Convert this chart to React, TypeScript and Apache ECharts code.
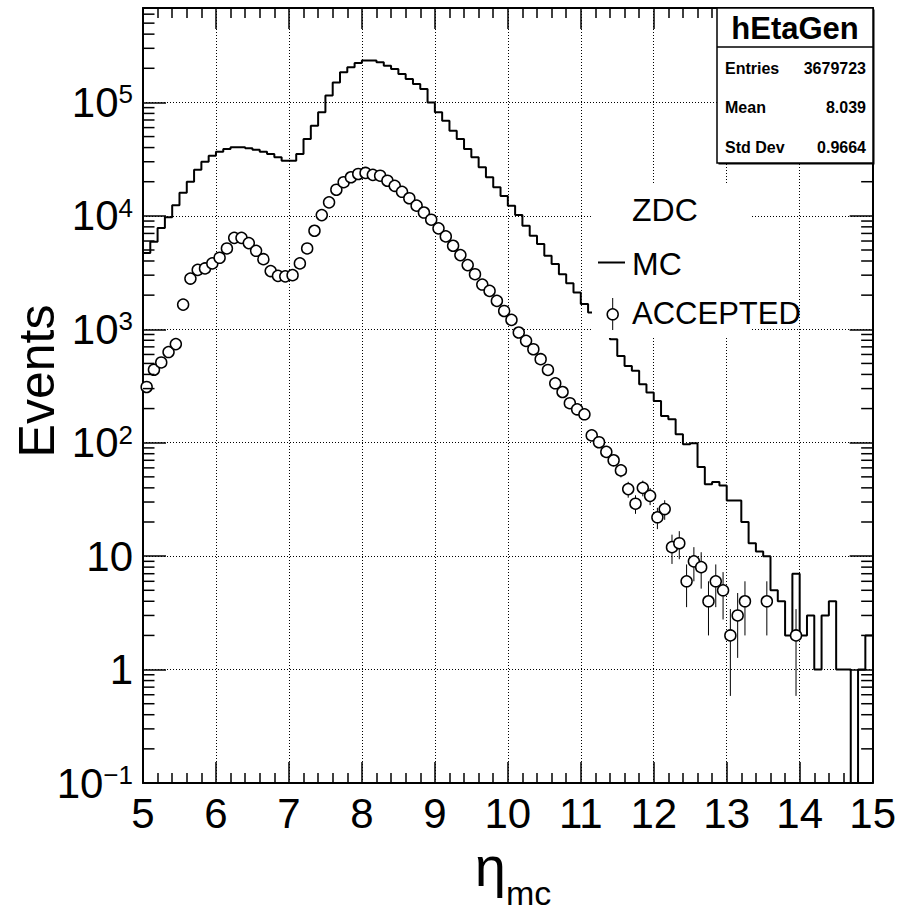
import React, { useEffect, useRef } from 'react';
import * as echarts from 'echarts';

// ---- axis ranges ----
const X_MIN = 5;
const X_MAX = 15;
const BIN_WIDTH = 0.1;
const Y_MIN = 0.1;
const Y_MAX = 680000;

// ---- MC histogram (hEtaGen), 100 bins of 0.1 from 5 to 15 ----
const mcCounts = [
  4700, 5900, 7800, 9700, 12400, 16000, 20000, 25500, 30000, 33900,
  36800, 38900, 40300, 40300, 39400, 38300, 36800, 35100, 32800, 30600,
  30600, 35100, 47600, 62400, 81900, 115000, 150000, 184500, 204000, 223000,
  234000, 234000, 226000, 211000, 197000, 178000, 161000, 145500, 131500, 100000,
  81900, 69000, 56400, 47600, 38900, 32800, 26800, 21900, 17900, 15000,
  12300, 10200, 8180, 6670, 5640, 4450, 3760, 3060, 2550, 2110,
  1667, 1405, 1180, 990, 818, 582, 475, 430, 327, 277,
  233, 172, 161, 119, 97, 99, 61, 43, 45, 42,
  31, 31, 20, 13, 11, 10, 5, 4, 2, 7,
  2, 3, 1, 3, 4, 1, 1, 0, 1, 2,
];

// ---- ACCEPTED histogram, same binning ----
const acceptedCounts = [
  310, 440, 510, 630, 740, 1650, 2800, 3340, 3440, 3810,
  4270, 5160, 6400, 6400, 5750, 4920, 4150, 3260, 2960, 2930,
  3000, 3810, 5160, 7390, 10160, 13150, 17000, 19800, 21900, 23400,
  23900, 23000, 22600, 20400, 18400, 16300, 14300, 12300, 10700, 9250,
  7760, 6590, 5450, 4510, 3680, 3060, 2480, 2180, 1780, 1450,
  1210, 937, 791, 667, 545, 438, 334, 280, 223, 197,
  178, 116, 101, 83, 70, 57, 39, 29, 40, 34,
  22, 26, 12, 13, 6, 9, 8, 4, 6, 5,
  2, 3, 4, 0, 0, 4, 0, 0, 0, 2,
  0, 0, 0, 0, 0, 0, 0, 0, 0, 0,
];

// ---- texts ----
const statsTitle = 'hEtaGen';
const statsLabels = ['Entries', 'Mean', 'Std Dev'];
const statsValues = ['3679723', '8.039', '0.9664'];
const legendHeader = 'ZDC';
const legendMC = 'MC';
const legendAccepted = 'ACCEPTED';
const yTitle = 'Events';

const FONT = '"Liberation Sans", Arial, Helvetica, sans-serif';

function binLow(i: number) {
  return Math.round((X_MIN + i * BIN_WIDTH) * 100) / 100;
}
function binCenter(i: number) {
  return Math.round((X_MIN + (i + 0.5) * BIN_WIDTH) * 1000) / 1000;
}

export default function App() {
  const ref = useRef<HTMLDivElement | null>(null);

  useEffect(() => {
    if (!ref.current) return;
    const chart = echarts.init(ref.current, null, { renderer: 'svg' });

    // step line: point at each bin low edge, plus the upper edge of the last bin
    const mcStep: number[][] = mcCounts.map((v, i) => [binLow(i), v > 0 ? v : 1e-6]);
    mcStep.push([X_MAX, mcCounts[mcCounts.length - 1] > 0 ? mcCounts[mcCounts.length - 1] : 1e-6]);

    const accPoints: number[][] = [];
    acceptedCounts.forEach((v, i) => {
      if (v > 0) accPoints.push([binCenter(i), v]);
    });
    const accErrors = accPoints.map(([x, v]) => [x, Math.max(v - Math.sqrt(v), 1e-6), v + Math.sqrt(v)]);

    // log minor ticks 2..9 x 10^n
    const minorTicks: number[][] = [];
    for (let e = -1; e <= 5; e++) {
      for (let m = 2; m <= 9; m++) {
        const v = m * Math.pow(10, e);
        if (v < Y_MAX) minorTicks.push([X_MIN, v]);
      }
    }

    const yLabel = (value: number) => {
      const lg = Math.log10(value);
      const n = Math.round(lg);
      if (Math.abs(lg - n) > 1e-6) return '';
      if (n === 0) return '{b|1}';
      if (n === 1) return '{b|10}';
      const exp = n < 0 ? '\u2212' + String(-n) : String(n);
      return '{b|10}{s|' + exp + '}';
    };

    const axisLineStyle = { color: '#000', width: 2 };
    const tickStyle = { color: '#000', width: 1.5 };

    const option: any = {
      animation: false,
      backgroundColor: '#fff',
      grid: { left: 143, top: 8, width: 730, height: 775, containLabel: false },
      xAxis: [
        {
          type: 'value',
          min: X_MIN,
          max: X_MAX,
          interval: 1,
          position: 'bottom',
          axisLine: { show: true, onZero: false, lineStyle: axisLineStyle },
          axisTick: { show: true, inside: true, length: 21, lineStyle: tickStyle },
          minorTick: { show: true, splitNumber: 5, length: 10, lineStyle: tickStyle },
          axisLabel: { show: true, margin: 9, color: '#000', fontSize: 42, fontFamily: FONT },
          splitLine: { show: true, lineStyle: { color: '#000', width: 1, type: [1, 2] } },
        },
        {
          type: 'value',
          min: X_MIN,
          max: X_MAX,
          interval: 1,
          position: 'top',
          axisLine: { show: true, onZero: false, lineStyle: axisLineStyle },
          axisTick: { show: true, inside: true, length: 21, lineStyle: tickStyle },
          minorTick: { show: true, splitNumber: 5, length: 10, lineStyle: tickStyle },
          axisLabel: { show: false },
          splitLine: { show: false },
        },
      ],
      yAxis: [
        {
          type: 'log',
          logBase: 10,
          min: Y_MIN,
          max: Y_MAX,
          position: 'left',
          axisLine: { show: true, onZero: false, lineStyle: axisLineStyle },
          axisTick: { show: true, inside: true, length: 23, lineStyle: tickStyle },
          minorTick: { show: false },
          axisLabel: {
            show: true,
            margin: 10,
            formatter: yLabel,
            rich: {
              b: { fontSize: 42, lineHeight: 42, fontFamily: FONT, color: '#000' },
              s: { fontSize: 26, lineHeight: 26, fontFamily: FONT, color: '#000', verticalAlign: 'top' },
            },
          },
          splitLine: { show: true, lineStyle: { color: '#000', width: 1, type: [1, 2] } },
        },
        {
          type: 'log',
          logBase: 10,
          min: Y_MIN,
          max: Y_MAX,
          position: 'right',
          axisLine: { show: true, onZero: false, lineStyle: axisLineStyle },
          axisTick: { show: true, inside: true, length: 23, lineStyle: tickStyle },
          minorTick: { show: false },
          axisLabel: { show: false },
          splitLine: { show: false },
        },
      ],
      series: [
        {
          name: legendMC,
          type: 'line',
          step: 'end',
          data: mcStep,
          xAxisIndex: 0,
          yAxisIndex: 0,
          showSymbol: false,
          symbol: 'none',
          clip: true,
          lineStyle: { color: '#000', width: 2 },
          z: 2,
        },
        {
          name: 'acc-errors',
          type: 'custom',
          data: accErrors,
          xAxisIndex: 0,
          yAxisIndex: 0,
          encode: { x: 0, y: [1, 2] },
          silent: true,
          z: 3,
          renderItem: (params: any, api: any) => {
            const x = api.value(0);
            const p1 = api.coord([x, api.value(1)]);
            const p2 = api.coord([x, api.value(2)]);
            return {
              type: 'line',
              shape: { x1: p1[0], y1: p1[1], x2: p2[0], y2: p2[1] },
              style: { stroke: '#000', lineWidth: 1 },
            };
          },
        },
        {
          name: legendAccepted,
          type: 'scatter',
          data: accPoints,
          xAxisIndex: 0,
          yAxisIndex: 0,
          symbol: 'circle',
          symbolSize: 11,
          itemStyle: { color: '#fff', borderColor: '#000', borderWidth: 1.5, opacity: 1 },
          z: 4,
        },
        {
          name: 'y-minor-ticks',
          type: 'custom',
          data: minorTicks,
          xAxisIndex: 0,
          yAxisIndex: 0,
          silent: true,
          z: 5,
          renderItem: (params: any, api: any) => {
            const v = api.value(1);
            const pl = api.coord([X_MIN, v]);
            const pr = api.coord([X_MAX, v]);
            return {
              type: 'group',
              children: [
                { type: 'line', shape: { x1: pl[0], y1: pl[1], x2: pl[0] + 11.5, y2: pl[1] }, style: { stroke: '#000', lineWidth: 1.5 } },
                { type: 'line', shape: { x1: pr[0] - 11.5, y1: pr[1], x2: pr[0], y2: pr[1] }, style: { stroke: '#000', lineWidth: 1.5 } },
              ],
            };
          },
        },
      ],
      graphic: {
        elements: [
          // legend box (white, borderless)
          { type: 'rect', z: 50, shape: { x: 592, y: 185, width: 158, height: 153 }, style: { fill: '#fff' } },
          { type: 'text', z: 51, x: 632, y: 210, style: { text: legendHeader, font: '32px ' + FONT, fill: '#000', align: 'left', verticalAlign: 'middle' } },
          { type: 'line', z: 51, shape: { x1: 598, y1: 262.5, x2: 625, y2: 262.5 }, style: { stroke: '#000', lineWidth: 2 } },
          { type: 'text', z: 51, x: 632, y: 263.5, style: { text: legendMC, font: '32px ' + FONT, fill: '#000', align: 'left', verticalAlign: 'middle' } },
          { type: 'line', z: 51, shape: { x1: 612.7, y1: 298, x2: 612.7, y2: 330 }, style: { stroke: '#000', lineWidth: 1 } },
          { type: 'circle', z: 52, shape: { cx: 612.7, cy: 314.3, r: 5.5 }, style: { fill: '#fff', stroke: '#000', lineWidth: 1.5 } },
          { type: 'text', z: 51, x: 632, y: 313.5, style: { text: legendAccepted, font: '31px ' + FONT, fill: '#000', align: 'left', verticalAlign: 'middle' } },

          // stats box
          { type: 'rect', z: 60, shape: { x: 718.5, y: 9.5, width: 156, height: 155 }, style: { fill: '#000' } },
          { type: 'rect', z: 61, shape: { x: 717, y: 8, width: 156, height: 155 }, style: { fill: '#fff', stroke: '#000', lineWidth: 1.5 } },
          { type: 'line', z: 62, shape: { x1: 717, y1: 47, x2: 873, y2: 47 }, style: { stroke: '#000', lineWidth: 1.5 } },
          { type: 'text', z: 62, x: 795, y: 28, style: { text: statsTitle, font: 'bold 31px ' + FONT, fill: '#000', align: 'center', verticalAlign: 'middle' } },
          ...statsLabels.map((t, i) => ({ type: 'text', z: 62, x: 725, y: 68 + i * 39.5, style: { text: t, font: 'bold 16px ' + FONT, fill: '#000', align: 'left', verticalAlign: 'middle' } })),
          ...statsValues.map((t, i) => ({ type: 'text', z: 62, x: 866, y: 68 + i * 39.5, style: { text: t, font: 'bold 16px ' + FONT, fill: '#000', align: 'right', verticalAlign: 'middle' } })),

          // axis titles
          { type: 'text', z: 62, x: 37, y: 381, rotation: Math.PI / 2, style: { text: yTitle, font: '50px ' + FONT, fill: '#000', align: 'center', verticalAlign: 'middle' } },
          {
            type: 'text', z: 62, x: 513, y: 866,
            style: {
              text: '{e|\u03b7}{s|mc}',
              align: 'center',
              verticalAlign: 'middle',
              rich: {
                e: { fontSize: 56, fontFamily: FONT, fill: '#000', lineHeight: 60, verticalAlign: 'middle' },
                s: { fontSize: 34, fontFamily: FONT, fill: '#000', lineHeight: 34, verticalAlign: 'bottom', padding: [0, 0, -14, 0] },
              },
            },
          },
        ],
      },
    };

    chart.setOption(option);
    return () => {
      chart.dispose();
    };
  }, []);

  return (
    <div
      ref={ref}
      style={{ position: 'fixed', left: 0, top: 0, width: 899, height: 913, background: '#fff' }}
    />
  );
}
